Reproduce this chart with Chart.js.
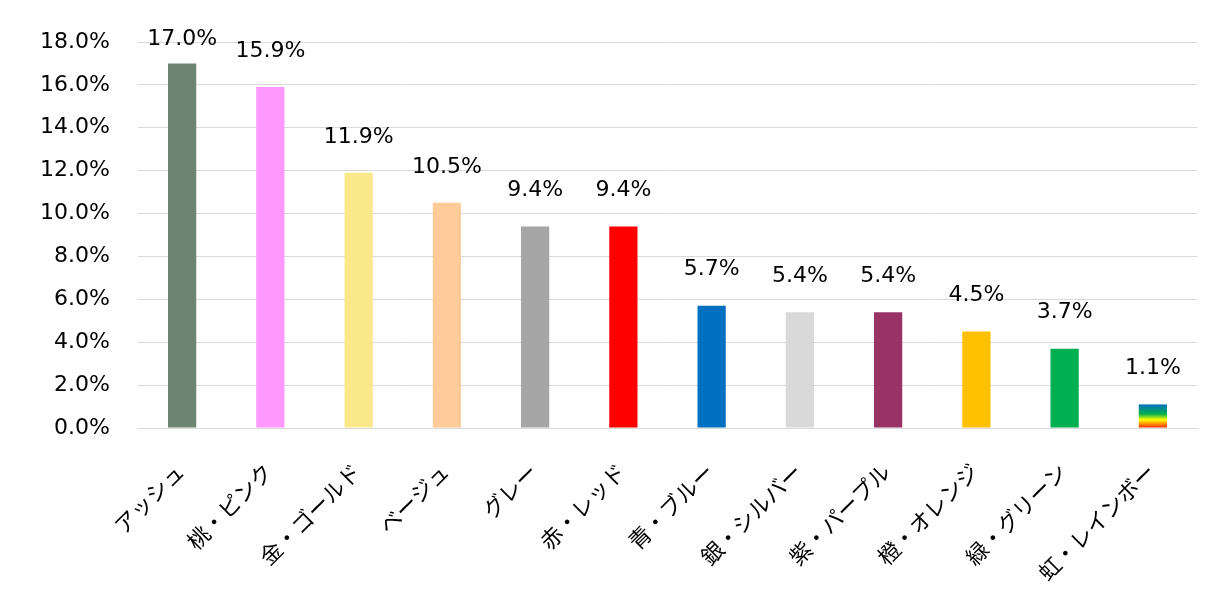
<!DOCTYPE html>
<html lang="ja">
<head>
  <meta charset="UTF-8" />
  <title>Hair color share</title>
  <script src="https://cdn.jsdelivr.net/npm/chart.js"></script>
  <style>
    html, body { margin: 0; padding: 0; background: #fff; }
    #wrap { width: 1229px; height: 597px; position: relative; }
  </style>
</head>
<body>
  <div id="wrap"><canvas id="colorChart"></canvas></div>

  <script>
    // chart data
    const categories = ["アッシュ", "桃・ピンク", "金・ゴールド", "ベージュ", "グレー", "赤・レッド",
      "青・ブルー", "銀・シルバー", "紫・パープル", "橙・オレンジ", "緑・グリーン", "虹・レインボー"];
    const shares = [17.0, 15.9, 11.9, 10.5, 9.4, 9.4, 5.7, 5.4, 5.4, 4.5, 3.7, 1.1];
    const barColors = ["#6b8570", "#ff99ff", "#f9e98b", "#ffcc99", "#a6a6a6", "#ff0000",
      "#0070c0", "#d9d9d9", "#993366", "#ffc000", "#00b050", "rainbow"];
    const yTicks = [0, 2, 4, 6, 8, 10, 12, 14, 16, 18];

    const FONT = "'DejaVu Sans', 'Noto Sans CJK JP', sans-serif";

    function rainbow(ctx) {
      const chart = ctx.chart;
      const yScale = chart.scales.y;
      if (!yScale) return "#00b050";
      const bottom = yScale.getPixelForValue(0);
      const top = yScale.getPixelForValue(shares[ctx.dataIndex]);
      if (!isFinite(bottom) || !isFinite(top) || bottom === top) return "#00b050";
      const g = chart.ctx.createLinearGradient(0, bottom, 0, top);
      g.addColorStop(0, "#ff2000");
      g.addColorStop(0.2, "#ffa000");
      g.addColorStop(0.35, "#ffff00");
      g.addColorStop(0.6, "#00b050");
      g.addColorStop(1, "#0070c0");
      return g;
    }

    // value labels above the bars
    const valueLabels = {
      id: "valueLabels",
      afterDatasetsDraw(chart) {
        const ctx = chart.ctx;
        ctx.save();
        ctx.font = "22px " + FONT;
        ctx.fillStyle = "#000";
        ctx.textAlign = "center";
        ctx.textBaseline = "middle";
        chart.getDatasetMeta(0).data.forEach((bar, i) => {
          const y = Math.max(bar.y - 36, 39);
          ctx.fillText(shares[i].toFixed(1) + "%", bar.x, y);
        });
        ctx.restore();
      }
    };

    new Chart(document.getElementById("colorChart"), {
      type: "bar",
      data: {
        labels: categories,
        datasets: [{
          data: shares,
          backgroundColor: ctx => barColors[ctx.dataIndex] === "rainbow" ? rainbow(ctx) : barColors[ctx.dataIndex],
          barPercentage: 0.32,
          categoryPercentage: 1.0
        }]
      },
      options: {
        responsive: true,
        maintainAspectRatio: false,
        animation: false,
        layout: { padding: { top: 42, right: 32, left: 20, bottom: 0 } },
        plugins: {
          legend: { display: false },
          tooltip: { enabled: false }
        },
        scales: {
          x: {
            grid: { display: false, drawTicks: false },
            border: { color: "#d9d9d9", width: 1 },
            ticks: {
              color: "#000",
              font: { size: 22, family: FONT },
              minRotation: 45,
              maxRotation: 45,
              padding: 32
            },
            afterFit(scale) { scale.height = 169; }
          },
          y: {
            min: 0,
            max: 18,
            afterBuildTicks(scale) { scale.ticks = yTicks.map(v => ({ value: v })); },
            grid: { color: "#d9d9d9", lineWidth: 1, drawTicks: false },
            border: { display: false },
            ticks: {
              color: "#000",
              font: { size: 22, family: FONT },
              padding: 28,
              callback: v => v.toFixed(1) + "%"
            },
            afterFit(scale) { scale.width = 118; }
          }
        }
      },
      plugins: [valueLabels]
    });
  </script>
</body>
</html>
